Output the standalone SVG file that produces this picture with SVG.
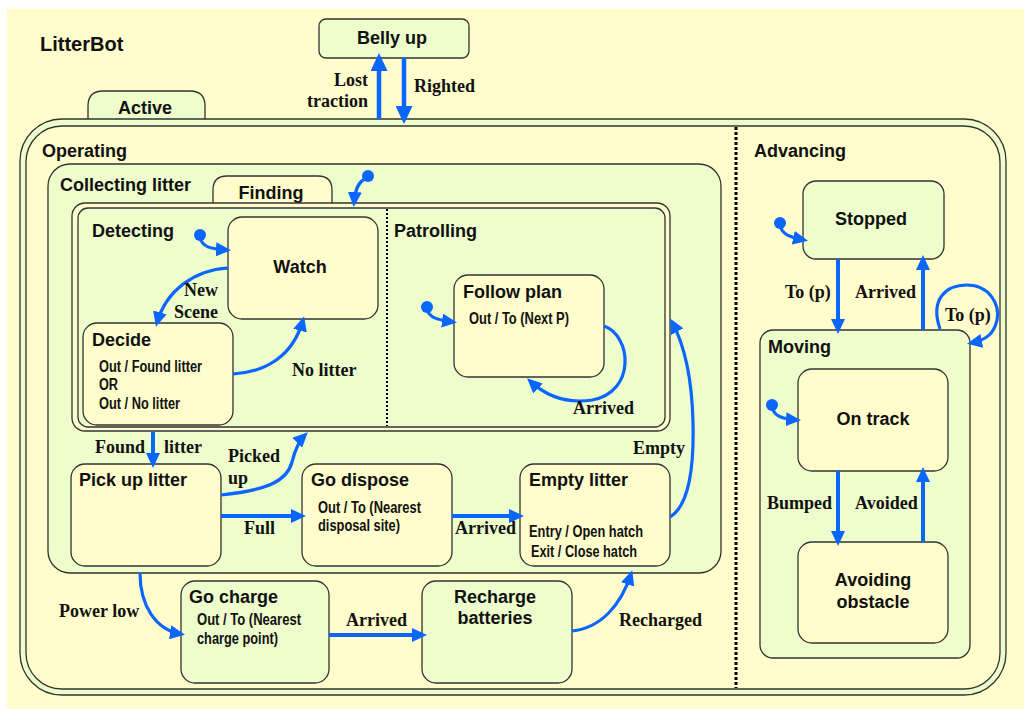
<svg xmlns="http://www.w3.org/2000/svg" width="1024" height="709" viewBox="0 0 1024 709">
  <style>
    .bg { fill: #FFFDCC; }
    .yel { fill: #FFFDCC; stroke: #333; stroke-width: 1.3; }
    .grn { fill: #EEFDCC; stroke: #333; stroke-width: 1.3; }
    .title { font-family: "Liberation Sans", Arial, sans-serif; font-weight: bold; font-size: 18px; fill: #111; }
    .mid { text-anchor: middle; }
    .small { font-family: "Liberation Sans Narrow", "Liberation Sans", Arial, sans-serif; font-weight: bold; font-size: 16px; fill: #111; }
    .lbl { font-family: "Liberation Serif", "Times New Roman", serif; font-weight: bold; font-size: 18px; fill: #111; }
    .tr { fill: none; stroke: #0A66FF; stroke-width: 3.2; marker-end: url(#head); }
    .trs { fill: none; stroke: #0A66FF; stroke-width: 4; marker-end: url(#head); }
    .trb { fill: none; stroke: #0A66FF; stroke-width: 4.5; marker-end: url(#bighead); }
    .dot { fill: #0A66FF; }
    .sep { fill: none; stroke: #000; stroke-width: 3; stroke-dasharray: 3 2; }
    .sep2 { fill: none; stroke: #000; stroke-width: 2; stroke-dasharray: 2 2; }
  </style>
  <defs>
    <marker id="head" markerUnits="userSpaceOnUse" markerWidth="15" markerHeight="14" refX="11" refY="7" orient="auto">
      <path d="M0,0 L15,7 L0,14 z" fill="#0A66FF"/>
    </marker>
    <marker id="bighead" markerUnits="userSpaceOnUse" markerWidth="18" markerHeight="17" refX="13" refY="8.5" orient="auto">
      <path d="M0,0 L18,8.5 L0,17 z" fill="#0A66FF"/>
    </marker>
  </defs>

  <!-- canvas -->
  <rect class="bg" x="7" y="9" width="1017" height="700"/>
  <text class="title" x="40" y="51" style="font-size:20px">LitterBot</text>

  <!-- Belly up -->
  <g id="belly-up">
    <rect class="grn" x="319" y="19" width="150" height="39" rx="7"/>
    <text class="title mid" x="392" y="44">Belly up</text>
  </g>

  <!-- Active superstate -->
  <g id="active">
    <path class="grn" d="M88,119 L88,106 Q88,91 103,91 L190,91 Q205,91 205,106 L205,119"/>
    <text class="title mid" x="145" y="114">Active</text>
    <rect class="grn" x="20" y="119" width="986" height="576" rx="42"/>
    <rect class="yel" x="26" y="126" width="974" height="563" rx="36"/>
    <line class="sep" x1="736" y1="127" x2="736" y2="688"/>
  </g>

  <!-- Operating region -->
  <g id="operating">
    <text class="title" x="42" y="157">Operating</text>
  </g>

  <!-- Collecting litter -->
  <g id="collecting-litter">
    <rect class="grn" x="48" y="164" width="673" height="409" rx="22"/>
    <text class="title" x="60" y="191">Collecting litter</text>
  </g>

  <!-- Finding -->
  <g id="finding">
    <path class="yel" d="M213,203 L213,190 Q213,176 227,176 L318,176 Q332,176 332,190 L332,203"/>
    <text class="title mid" x="271" y="199">Finding</text>
    <rect class="yel" x="72" y="203" width="598" height="228" rx="13"/>
    <rect class="grn" x="78" y="208" width="587" height="219" rx="10"/>
    <line class="sep2" x1="387" y1="209" x2="387" y2="426"/>
    <text class="title" x="92" y="237">Detecting</text>
    <text class="title" x="394" y="237">Patrolling</text>
  </g>

  <g id="watch">
    <rect class="yel" x="228" y="217" width="150" height="102" rx="14"/>
    <text class="title mid" x="300" y="273">Watch</text>
  </g>

  <g id="decide">
    <rect class="yel" x="83" y="323" width="150" height="102" rx="14"/>
    <text class="title" x="92" y="346">Decide</text>
    <text class="small" x="99" y="372" textLength="103" lengthAdjust="spacingAndGlyphs">Out / Found litter</text>
    <text class="small" x="99" y="390" textLength="19" lengthAdjust="spacingAndGlyphs">OR</text>
    <text class="small" x="99" y="409" textLength="81" lengthAdjust="spacingAndGlyphs">Out / No litter</text>
  </g>

  <g id="follow-plan">
    <rect class="yel" x="454" y="275" width="150" height="102" rx="14"/>
    <text class="title" x="463" y="298">Follow plan</text>
    <text class="small" x="469" y="324" textLength="100" lengthAdjust="spacingAndGlyphs">Out / To (Next P)</text>
  </g>

  <g id="pick-up-litter">
    <rect class="yel" x="71" y="464" width="150" height="102" rx="14"/>
    <text class="title" x="79" y="486">Pick up litter</text>
  </g>

  <g id="go-dispose">
    <rect class="yel" x="302" y="464" width="150" height="102" rx="14"/>
    <text class="title" x="311" y="486">Go dispose</text>
    <text class="small" x="318" y="513" textLength="103" lengthAdjust="spacingAndGlyphs">Out / To (Nearest</text>
    <text class="small" x="318" y="531" textLength="82" lengthAdjust="spacingAndGlyphs">disposal site)</text>
  </g>

  <g id="empty-litter">
    <rect class="yel" x="520" y="464" width="150" height="102" rx="14"/>
    <text class="title" x="529" y="486">Empty litter</text>
    <text class="small" x="529" y="537" textLength="114" lengthAdjust="spacingAndGlyphs">Entry / Open hatch</text>
    <text class="small" x="531" y="557" textLength="106" lengthAdjust="spacingAndGlyphs">Exit / Close hatch</text>
  </g>

  <g id="go-charge">
    <rect class="grn" x="181" y="581" width="148" height="102" rx="14"/>
    <text class="title" x="189" y="603">Go charge</text>
    <text class="small" x="197" y="625" textLength="104" lengthAdjust="spacingAndGlyphs">Out / To (Nearest</text>
    <text class="small" x="197" y="644" textLength="81" lengthAdjust="spacingAndGlyphs">charge point)</text>
  </g>

  <g id="recharge-batteries">
    <rect class="grn" x="422" y="581" width="150" height="102" rx="14"/>
    <text class="title mid" x="495" y="603">Recharge</text>
    <text class="title mid" x="495" y="624">batteries</text>
  </g>

  <!-- Advancing region -->
  <g id="advancing">
    <text class="title" x="754" y="157">Advancing</text>
  </g>

  <g id="stopped">
    <rect class="grn" x="803" y="181" width="141" height="78" rx="13"/>
    <text class="title mid" x="871" y="225">Stopped</text>
  </g>

  <g id="moving">
    <rect class="grn" x="760" y="330" width="210" height="328" rx="13"/>
    <text class="title" x="768" y="353">Moving</text>
  </g>

  <g id="on-track">
    <rect class="yel" x="798" y="369" width="150" height="102" rx="14"/>
    <text class="title mid" x="873" y="425">On track</text>
  </g>

  <g id="avoiding-obstacle">
    <rect class="yel" x="798" y="542" width="150" height="101" rx="14"/>
    <text class="title mid" x="873" y="586">Avoiding</text>
    <text class="title mid" x="873" y="608">obstacle</text>
  </g>

  <!-- transitions -->
  <g id="connectors">
    <!-- Active <-> Belly up -->
    <path class="trb" d="M379,119 L379,58"/>
    <path class="trb" d="M404,58 L404,119"/>
    <text class="lbl" x="368" y="86" text-anchor="end">Lost</text>
    <text class="lbl" x="368" y="107" text-anchor="end">traction</text>
    <text class="lbl" x="414" y="92">Righted</text>

    <!-- initial pseudo-states -->
    <circle class="dot" cx="368" cy="176" r="6"/>
    <path class="tr" d="M367,178 C358,181 355,190 354,203"/>
    <circle class="dot" cx="200" cy="235" r="6"/>
    <path class="tr" d="M200,237 C202,247 210,249 227,250"/>
    <circle class="dot" cx="427" cy="307" r="6"/>
    <path class="tr" d="M427,309 C429,318 438,320 453,322"/>
    <circle class="dot" cx="780" cy="223" r="6"/>
    <path class="tr" d="M780,225 C782,235 790,237 804,240"/>
    <circle class="dot" cx="772" cy="405" r="6"/>
    <path class="tr" d="M772,407 C774,416 782,419 797,420"/>

    <!-- Detecting -->
    <path class="tr" d="M228,268 C195,270 166,290 157,323"/>
    <text class="lbl" x="218" y="296" text-anchor="end">New</text>
    <text class="lbl" x="218" y="318" text-anchor="end">Scene</text>
    <path class="tr" d="M233,374 C266,372 293,356 303,320"/>
    <text class="lbl" x="292" y="376">No litter</text>

    <!-- Patrolling -->
    <path class="tr" d="M604,326 C632,336 636,392 592,400 C566,404 545,395 530,381"/>
    <text class="lbl" x="573" y="414">Arrived</text>

    <!-- Collecting litter -->
    <path class="trs" d="M153,432 L153,464"/>
    <text class="lbl" x="95" y="453">Found</text>
    <text class="lbl" x="164" y="453">litter</text>
    <path class="tr" d="M221,495 C268,490 287,481 292,462 C295,450 299,441 305,435"/>
    <text class="lbl" x="228" y="462">Picked</text>
    <text class="lbl" x="228" y="484">up</text>
    <path class="trs" d="M221,516 L302,516"/>
    <text class="lbl" x="244" y="534">Full</text>
    <path class="trs" d="M452,516 L520,516"/>
    <text class="lbl" x="455" y="534">Arrived</text>
    <path class="tr" d="M670,517 C690,505 694,462 693,422 C692,382 685,346 672,322"/>
    <text class="lbl" x="633" y="454">Empty</text>

    <!-- charging -->
    <path class="tr" d="M140,573 C140,606 156,630 181,634"/>
    <text class="lbl" x="59" y="617">Power low</text>
    <path class="trs" d="M329,635 L423,635"/>
    <text class="lbl" x="346" y="626">Arrived</text>
    <path class="tr" d="M572,631 C601,628 621,605 631,574"/>
    <text class="lbl" x="619" y="626">Recharged</text>

    <!-- Advancing -->
    <path class="trs" d="M838,259 L838,330"/>
    <text class="lbl" x="785" y="298">To (p)</text>
    <path class="trs" d="M923,330 L923,259"/>
    <text class="lbl" x="855" y="298">Arrived</text>
    <path class="tr" d="M940,329 C930,300 945,285 967,285 C990,285 1000,305 997,320 C994,334 986,340 971,343"/>
    <text class="lbl" x="945" y="321">To (p)</text>
    <path class="trs" d="M838,471 L838,542"/>
    <text class="lbl" x="767" y="509">Bumped</text>
    <path class="trs" d="M923,542 L923,471"/>
    <text class="lbl" x="855" y="509">Avoided</text>
  </g>
</svg>
